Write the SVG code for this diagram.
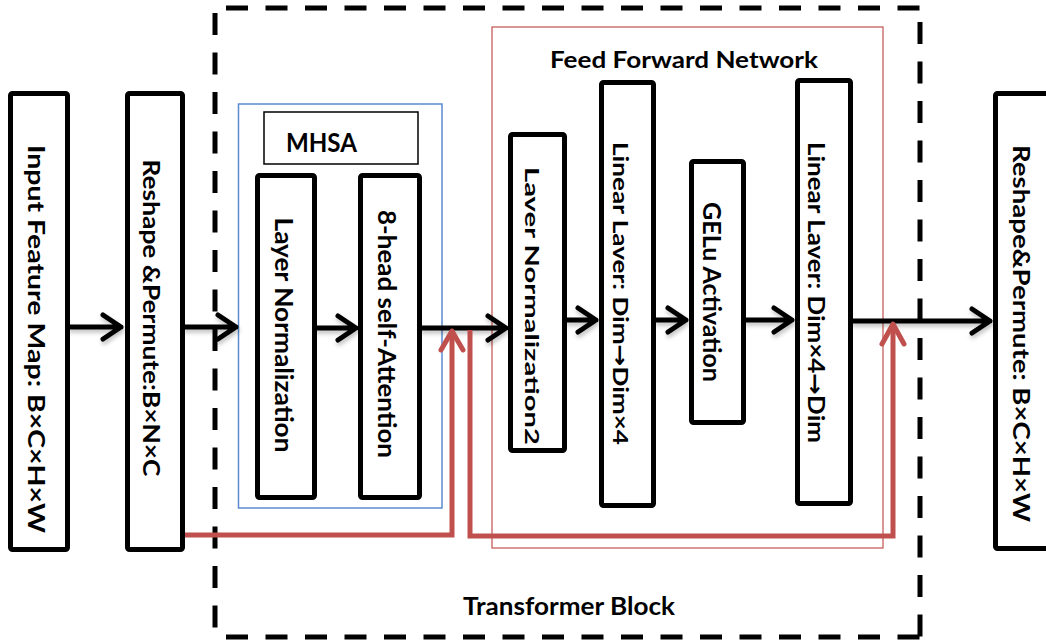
<svg xmlns="http://www.w3.org/2000/svg" width="1046" height="644" viewBox="0 0 1046 644">
<defs>
<filter id="sh" x="-20%" y="-50%" width="140%" height="200%">
<feDropShadow dx="1" dy="3" stdDeviation="2" flood-color="#000" flood-opacity="0.25"/>
</filter>
</defs>
<style>
.box{fill:#fff;stroke:#000;stroke-width:5;}
.lbl{font-family:Lato,"Liberation Sans",Arial,sans-serif;font-weight:bold;fill:#000;}
.ar{font-family:"DejaVu Sans",sans-serif;font-weight:bold;}
.arr{fill:none;stroke:#000;stroke-width:5;stroke-linecap:round;stroke-linejoin:round;}
.res{fill:none;stroke:#c0504d;stroke-width:5;stroke-linejoin:miter;}
.resh{fill:none;stroke:#c0504d;stroke-width:5;stroke-linecap:round;stroke-linejoin:round;}
.dash{fill:none;stroke:#000;stroke-width:5;stroke-dasharray:22 17.5;}
</style>
<rect width="1046" height="644" fill="#fff"/>

<g id="transformer-block">
<path class="dash" d="M226,8 H922"/>
<path class="dash" d="M215,13 V644"/>
<path class="dash" d="M920,22 V644"/>
<path class="dash" d="M226,637 H922"/>
<text class="lbl" x="569" y="615" font-size="24" text-anchor="middle" textLength="212" lengthAdjust="spacingAndGlyphs">Transformer Block</text>
</g>

<g id="mhsa-group">
<rect x="238.5" y="104" width="203.5" height="404" fill="none" stroke="#5b8bd0" stroke-width="1.5"/>
<rect x="264" y="112" width="154" height="52" fill="#fff" stroke="#000" stroke-width="1.5"/>
<text class="lbl" x="321.5" y="152" font-size="26" text-anchor="middle" textLength="71" lengthAdjust="spacingAndGlyphs">MHSA</text>
</g>

<g id="ffn-group">
<rect x="492" y="27" width="391" height="521" fill="none" stroke="#c0504d" stroke-width="1.2"/>
<text class="lbl" x="684" y="68" font-size="22" text-anchor="middle" textLength="268" lengthAdjust="spacingAndGlyphs">Feed Forward Network</text>
</g>

<g id="input">
<rect class="box" x="10.5" y="93.5" width="57" height="456" rx="2"/>
<text class="lbl" transform="translate(28,339) rotate(90)" font-size="22" text-anchor="middle" textLength="388" lengthAdjust="spacingAndGlyphs">Input Feature Map: B×C×H×W</text>
</g>

<g id="reshape1">
<rect class="box" x="127.5" y="93.5" width="55" height="456" rx="2"/>
<text class="lbl" transform="translate(143,318) rotate(90)" font-size="23" text-anchor="middle" textLength="317" lengthAdjust="spacingAndGlyphs">Reshape &amp;Permute:B×N×C</text>
</g>

<g id="layernorm1">
<rect class="box" x="257.5" y="175.5" width="57" height="322" rx="2"/>
<text class="lbl" transform="translate(275,335) rotate(90)" font-size="25" text-anchor="middle" textLength="235" lengthAdjust="spacingAndGlyphs">Layer Normalization</text>
</g>

<g id="attention">
<rect class="box" x="360.5" y="175.5" width="59" height="322" rx="2"/>
<text class="lbl" transform="translate(378,334) rotate(90)" font-size="25" text-anchor="middle" textLength="248" lengthAdjust="spacingAndGlyphs">8-head self-Attention</text>
</g>

<g id="layernorm2">
<rect class="box" x="510.5" y="134.5" width="54" height="316" rx="2"/>
<text class="lbl" transform="translate(525,306) rotate(90)" font-size="19" text-anchor="middle" textLength="278" lengthAdjust="spacingAndGlyphs">Laver Normalization2</text>
</g>

<g id="linear1">
<rect class="box" x="601.5" y="82.5" width="52" height="423" rx="2"/>
<text class="lbl" transform="translate(613,293.5) rotate(90)" font-size="21" text-anchor="middle" textLength="303" lengthAdjust="spacingAndGlyphs">Linear Laver: Dim<tspan class="ar">→</tspan>Dim×4</text>
</g>

<g id="gelu">
<rect class="box" x="691.5" y="161.5" width="52" height="261" rx="2"/>
<text class="lbl" transform="translate(703,292) rotate(90)" font-size="24" text-anchor="middle" textLength="180" lengthAdjust="spacingAndGlyphs">GELu Activation</text>
</g>

<g id="linear2">
<rect class="box" x="797.5" y="80.5" width="53" height="423" rx="2"/>
<text class="lbl" transform="translate(808,292.5) rotate(90)" font-size="22" text-anchor="middle" textLength="301" lengthAdjust="spacingAndGlyphs">Linear Laver: Dim×4<tspan class="ar">→</tspan>Dim</text>
</g>

<g id="reshape2">
<rect class="box" x="995.5" y="93.5" width="60" height="455" rx="2"/>
<text class="lbl" transform="translate(1013,333.5) rotate(90)" font-size="23" text-anchor="middle" textLength="377" lengthAdjust="spacingAndGlyphs">Reshape&amp;Permute: B×C×H×W</text>
</g>

<g id="connectors">
<g filter="url(#sh)">
<path class="arr" d="M70,327 H121 M103,315 L121,327 L103,339"/>
<path class="arr" d="M185,327 H236 M218,315 L236,327 L218,339"/>
<path class="arr" d="M317,328 H356 M338,316 L356,328 L338,340"/>
<path class="arr" d="M422,328 H506 M488,316 L506,328 L488,340"/>
<path class="arr" d="M567,320 H596 M578,308 L596,320 L578,332"/>
<path class="arr" d="M656,320 H686 M668,308 L686,320 L668,332"/>
<path class="arr" d="M746,320 H792 M774,308 L792,320 L774,332"/>
<path class="arr" d="M853,321 H990 M972,309 L990,321 L972,333"/>
</g>
<path class="res" d="M185,535 H452 V333"/>
<path class="resh" d="M441,350 L452,331 L463,350"/>
<path class="res" d="M470,330 V536 H893 V325"/>
<path class="resh" d="M882,344 L893,324 L904,344"/>
</g>
</svg>
